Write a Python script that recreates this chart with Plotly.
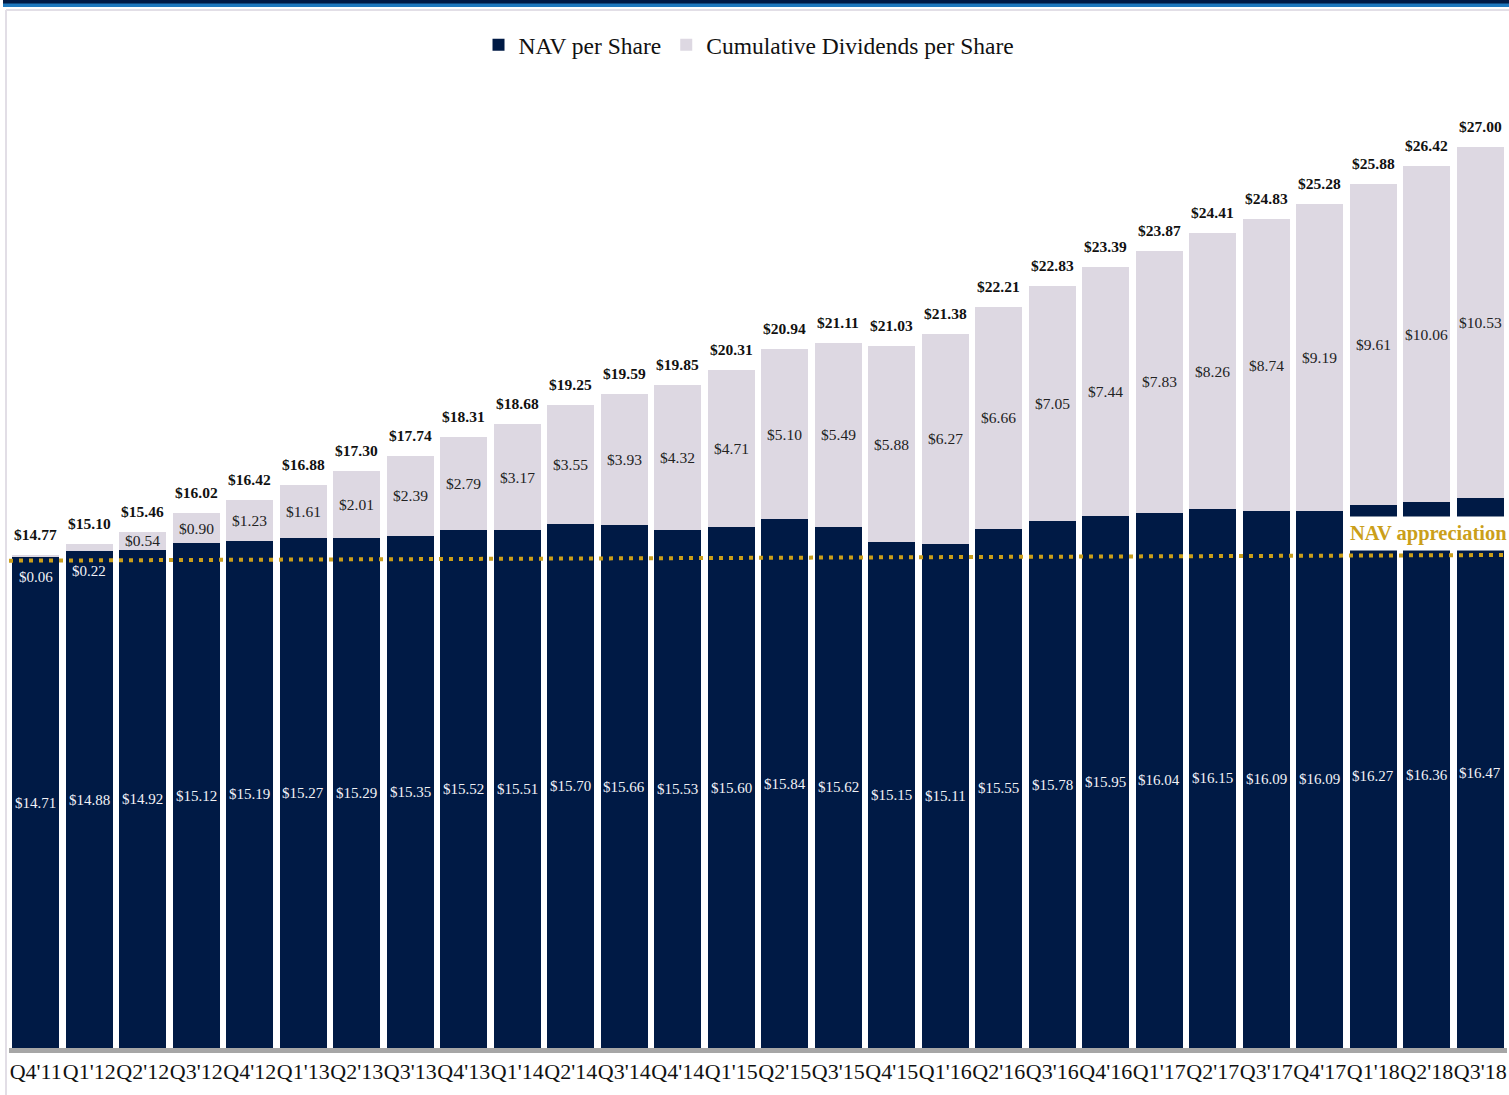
import plotly.graph_objects as go

# Quarter labels
quarters = ["Q4'11", "Q1'12", "Q2'12", "Q3'12", "Q4'12", "Q1'13", "Q2'13", "Q3'13",
            "Q4'13", "Q1'14", "Q2'14", "Q3'14", "Q4'14", "Q1'15", "Q2'15", "Q3'15",
            "Q4'15", "Q1'16", "Q2'16", "Q3'16", "Q4'16", "Q1'17", "Q2'17", "Q3'17",
            "Q4'17", "Q1'18", "Q2'18", "Q3'18"]

# Net asset value per share ($)
nav_per_share = [14.71, 14.88, 14.92, 15.12, 15.19, 15.27, 15.29, 15.35,
                 15.52, 15.51, 15.70, 15.66, 15.53, 15.60, 15.84, 15.62,
                 15.15, 15.11, 15.55, 15.78, 15.95, 16.04, 16.15, 16.09,
                 16.09, 16.27, 16.36, 16.47]

# Cumulative dividends paid per share ($)
cum_dividends = [0.06, 0.22, 0.54, 0.90, 1.23, 1.61, 2.01, 2.39,
                 2.79, 3.17, 3.55, 3.93, 4.32, 4.71, 5.10, 5.49,
                 5.88, 6.27, 6.66, 7.05, 7.44, 7.83, 8.26, 8.74,
                 9.19, 9.61, 10.06, 10.53]

totals = [round(n + d, 2) for n, d in zip(nav_per_share, cum_dividends)]

NAVY = "#001A45"
LILAC = "#DDD8E2"
GOLD = "#CB9F1A"
FONT = "Liberation Serif"

fig = go.Figure()
fig.add_trace(go.Bar(
    x=quarters, y=nav_per_share, name="NAV per Share",
    marker=dict(color=NAVY, line=dict(width=0)),
))
fig.add_trace(go.Bar(
    x=quarters, y=cum_dividends, name="Cumulative Dividends per Share",
    marker=dict(color=LILAC, line=dict(width=0)),
))

annotations = []
for q, n, d, t in zip(quarters, nav_per_share, cum_dividends, totals):
    # NAV value centred in the navy segment
    annotations.append(dict(
        x=q, y=n / 2, text=f"${n:.2f}", showarrow=False,
        font=dict(family=FONT, size=15, color="#F2F2F6"),
        xanchor="center", yanchor="middle",
    ))
    # Dividend value: inside the segment, or just under it when too thin
    if d < 0.4:
        annotations.append(dict(
            x=q, y=n, text=f"${d:.2f}", showarrow=False,
            font=dict(family=FONT, size=15, color="#F2F2F6"),
            xanchor="center", yanchor="top", yshift=-10,
        ))
    else:
        annotations.append(dict(
            x=q, y=n + d / 2, text=f"${d:.2f}", showarrow=False,
            font=dict(family=FONT, size=15.5, color="#222222"),
            xanchor="center", yanchor="middle",
        ))
    # Total above the stack
    annotations.append(dict(
        x=q, y=t, text=f"<b>${t:.2f}</b>", showarrow=False,
        font=dict(family=FONT, size=15.5, color="#111111"),
        xanchor="center", yanchor="bottom", yshift=10,
    ))

# Callout for the NAV appreciation reference line
annotations.append(dict(
    xref="paper", x=1.004, yref="y", y=15.42,
    text="<b>NAV appreciation</b>", showarrow=False,
    font=dict(family=FONT, size=20.5, color=GOLD),
    xanchor="right", yanchor="middle",
    bgcolor="white", borderpad=5,
))

shapes = [
    # dotted NAV reference line
    dict(type="line", xref="paper", x0=0.0, x1=1.0, yref="y", y0=14.60, y1=14.77,
         line=dict(color=GOLD, width=4, dash="4px,6px"), layer="above"),
    # page frame: navy band with blue rule at top
    dict(type="rect", xref="paper", yref="paper", x0=-0.004, x1=1.002,
         y0=1.0 + 76 / 968, y1=1.0 + 81 / 968,
         fillcolor="#001A45", line=dict(width=0), layer="above"),
    dict(type="rect", xref="paper", yref="paper", x0=-0.004, x1=1.002,
         y0=1.0 + 73 / 968, y1=1.0 + 76.5 / 968,
         fillcolor="#1E78BE", line=dict(width=0), layer="above"),
    dict(type="line", xref="paper", yref="paper", x0=-0.002, x1=1.002,
         y0=1.0 + 70 / 968, y1=1.0 + 70 / 968,
         line=dict(color="#E2DEE6", width=2)),
    dict(type="line", xref="paper", yref="paper", x0=-0.002, x1=-0.002,
         y0=-47 / 968, y1=1.0 + 70 / 968,
         line=dict(color="#E2DEE6", width=2)),
]

fig.update_layout(
    width=1509, height=1095,
    margin=dict(l=9, r=2, t=80, b=47, autoexpand=False),
    barmode="stack", bargap=0.12,
    plot_bgcolor="white", paper_bgcolor="white",
    font=dict(family=FONT, color="#111111"),
    showlegend=True,
    legend=dict(orientation="h", x=0.494, xanchor="center", y=1.0 + 35 / 968,
                yanchor="middle", font=dict(family=FONT, size=23.5, color="#111111"),
                traceorder="normal"),
    xaxis=dict(showline=True, linecolor="#A6A6A6", linewidth=5, ticks="",
               tickangle=0, automargin=False,
               tickfont=dict(family=FONT, size=22, color="#111111"),
               showgrid=False, zeroline=False),
    yaxis=dict(range=[0, 29], visible=False, showgrid=False, zeroline=False,
               automargin=False),
    annotations=annotations,
    shapes=shapes,
)

fig.write_html("out.html")
